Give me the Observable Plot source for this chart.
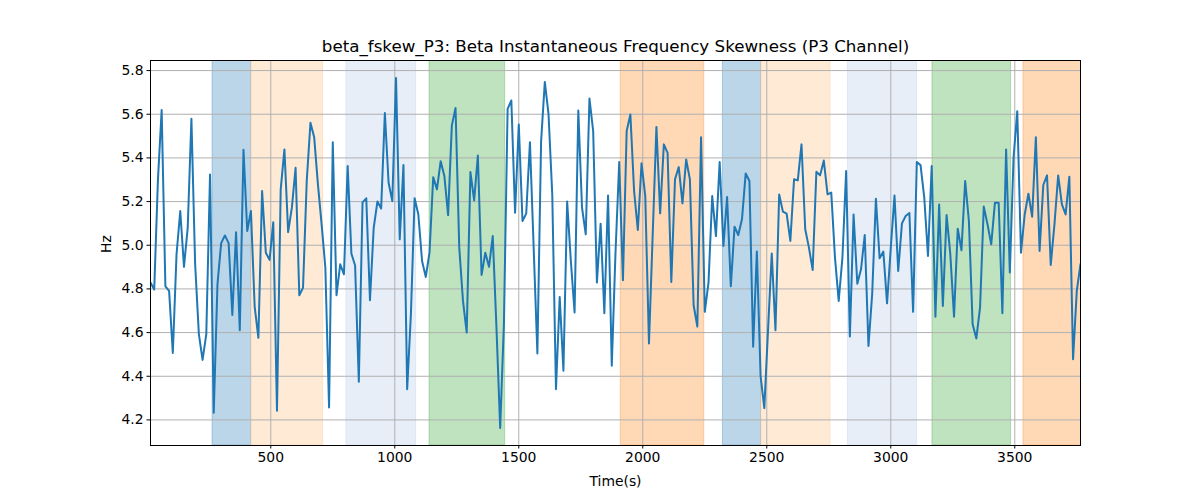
<!DOCTYPE html>
<html>
<head>
<meta charset="utf-8">
<script src="https://cdn.jsdelivr.net/npm/d3@7"></script>
<script src="https://cdn.jsdelivr.net/npm/@observablehq/plot@0.6"></script>
<style>
  html, body { margin: 0; padding: 0; background: white; }
  #chart { width: 1200px; height: 500px; }
</style>
</head>
<body>
<div id="chart"></div>
<script>
const title = "beta_fskew_P3: Beta Instantaneous Frequency Skewness (P3 Channel)";
const xLabel = "Time(s)";
const yLabel = "Hz";

// sampling: first sample time and interval (seconds)
const tStart = 15;
const tStep = 15;

const values = [
  4.829, 4.797, 5.300, 5.619, 4.812, 4.791, 4.507, 4.959, 5.157, 4.901,
  5.080, 5.579, 4.913, 4.593, 4.475, 4.593, 5.324, 4.233, 4.821, 5.010,
  5.045, 5.010, 4.681, 5.060, 4.611, 5.437, 5.065, 5.157, 4.719, 4.576,
  5.248, 4.966, 4.933, 5.105, 4.242, 5.256, 5.439, 5.060, 5.172, 5.355,
  4.771, 4.805, 5.294, 5.561, 5.495, 5.280, 5.096, 4.898, 4.257, 5.472,
  4.771, 4.913, 4.867, 5.363, 4.962, 4.907, 4.375, 5.196, 5.215, 4.748,
  5.080, 5.200, 5.168, 5.606, 5.286, 5.202, 5.766, 5.027, 5.367, 4.341,
  4.684, 5.215, 5.141, 4.928, 4.855, 4.966, 5.312, 5.256, 5.385, 5.317,
  5.138, 5.548, 5.629, 4.989, 4.745, 4.600, 5.335, 5.205, 5.411, 4.864,
  4.966, 4.901, 5.042, 4.623, 4.163, 4.638, 5.625, 5.663, 5.149, 5.553,
  5.111, 5.145, 5.472, 4.989, 4.504, 5.477, 5.748, 5.599, 5.233, 4.341,
  4.763, 4.425, 5.200, 4.928, 4.692, 5.617, 5.172, 5.050, 5.672, 5.523,
  4.829, 5.099, 4.689, 5.228, 4.448, 4.966, 5.381, 4.840, 5.523, 5.599,
  5.248, 5.070, 5.375, 5.225, 4.550, 5.050, 5.542, 5.146, 5.462, 5.423,
  4.832, 5.302, 5.358, 5.192, 5.393, 5.302, 4.725, 4.628, 5.495, 4.695,
  4.829, 5.225, 5.042, 5.381, 4.997, 5.221, 4.812, 5.085, 5.047, 5.119,
  5.329, 5.294, 4.535, 4.971, 4.402, 4.254, 4.610, 4.962, 4.611, 5.233,
  5.154, 5.145, 5.020, 5.302, 5.297, 5.462, 5.073, 4.989, 4.887, 5.337,
  5.320, 5.388, 5.233, 5.241, 4.943, 4.745, 4.943, 5.340, 4.582, 5.141,
  4.824, 4.890, 5.047, 4.539, 4.776, 5.213, 4.940, 4.971, 4.734, 4.989,
  5.228, 4.882, 5.100, 5.134, 5.148, 4.695, 5.381, 5.367, 5.218, 4.951,
  5.363, 4.673, 5.187, 4.722, 5.138, 4.959, 4.673, 5.076, 4.977, 5.294,
  5.111, 4.638, 4.573, 4.715, 5.177, 5.096, 5.004, 5.195, 5.195, 4.689,
  5.439, 4.875, 5.400, 5.614, 4.966, 5.141, 5.236, 5.131, 5.495, 4.974,
  5.276, 5.320, 4.910, 5.096, 5.320, 5.187, 5.141, 5.314, 4.478, 4.791,
  4.913
];

const bandStart = [265, 421, 805, 1140, 1911, 2323, 2477, 2827, 3168, 3535];
const bandEnd   = [421, 711, 1086, 1445, 2248, 2477, 2757, 3106, 3485, 3800];
const bandColor = ["#1f77b4", "#ffbb78", "#aec7e8", "#2ca02c", "#ff7f0e",
                   "#1f77b4", "#ffbb78", "#aec7e8", "#2ca02c", "#ff7f0e"];

const xTicks = [500, 1000, 1500, 2000, 2500, 3000, 3500];
const yTicks = [4.2, 4.4, 4.6, 4.8, 5.0, 5.2, 5.4, 5.6, 5.8];

const data = values.map((v, i) => ({t: tStart + i * tStep, v}));
const bands = bandStart.map((s, i) => ({s, e: bandEnd[i], c: bandColor[i]}));

const tMin = tStart, tMax = tStart + (values.length - 1) * tStep;
const vMin = d3.min(values), vMax = d3.max(values);
const pad = (vMax - vMin) * 0.05;

const chart = Plot.plot({
  width: 1200,
  height: 500,
  marginLeft: 150,
  marginRight: 120,
  marginTop: 60,
  marginBottom: 55,
  style: {fontFamily: "DejaVu Sans", fontSize: "13.9px", background: "white", color: "black", overflow: "visible"},
  x: {domain: [tMin, tMax]},
  y: {domain: [vMin - pad, vMax + pad]},
  color: {type: "identity"},
  marks: [
    Plot.rect(bands, {x1: "s", x2: "e", fill: "c", fillOpacity: 0.3, stroke: "c", strokeOpacity: 0.3, strokeWidth: 1, clip: true}),
    Plot.gridX(xTicks, {stroke: "#b0b0b0", strokeOpacity: 1, strokeWidth: 1}),
    Plot.gridY(yTicks, {stroke: "#b0b0b0", strokeOpacity: 1, strokeWidth: 1}),
    Plot.line(data, {x: "t", y: "v", stroke: "#1f77b4", strokeWidth: 2, clip: true}),
    Plot.frame({stroke: "black", strokeWidth: 1}),
    Plot.axisX(xTicks, {tickSize: 3.5, tickPadding: 3.5, label: null, fontSize: 13.9, stroke: "black", strokeWidth: 1, tickFormat: d => String(d)}),
    Plot.axisY(yTicks, {tickSize: 3.5, tickPadding: 3.5, label: null, fontSize: 13.9, stroke: "black", strokeWidth: 1, tickFormat: d => d.toFixed(1)}),
    Plot.text([title], {text: d => d, frameAnchor: "top", dy: -14, lineAnchor: "middle", fontSize: 16.7, fill: "black"}),
    Plot.text([xLabel], {text: d => d, frameAnchor: "bottom", dy: 36, lineAnchor: "middle", fontSize: 13.9, fill: "black"}),
    Plot.text([yLabel], {text: d => d, frameAnchor: "left", dx: -44, rotate: -90, lineAnchor: "middle", fontSize: 13.9, fill: "black"})
  ]
});
document.getElementById("chart").appendChild(chart);
</script>
</body>
</html>
